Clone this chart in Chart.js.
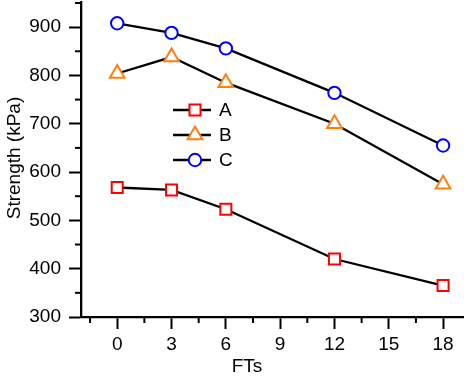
<!DOCTYPE html>
<html>
<head>
<meta charset="utf-8">
<script src="https://cdn.jsdelivr.net/npm/chart.js@4/dist/chart.umd.min.js"></script>
<style>
  html, body { margin: 0; padding: 0; background: #fff; }
  #wrap { width: 464px; height: 376px; position: relative; }
</style>
</head>
<body>
<div id="wrap"><canvas id="c" width="464" height="376"></canvas></div>
<script>
// Strength vs freeze-thaw cycles
var fts = [0, 3, 6, 12, 18];
var seriesA = [568, 563, 523, 420, 365];
var seriesB = [804, 838, 785, 700, 575];
var seriesC = [908, 888, 856, 764, 655];
var xTicks = [0, 3, 6, 9, 12, 15, 18];
var yTicks = [300, 400, 500, 600, 700, 800, 900];
var names = ['A', 'B', 'C'];

var FONT = '"Liberation Sans", Arial, sans-serif';
var styles = [
  { color: '#ff0000', pointStyle: 'rect', radius: 7.8 },
  { color: '#ff7f0e', pointStyle: 'triangle', radius: 8.5 },
  { color: '#0000ff', pointStyle: 'circle', radius: 6.2 }
];

function pts(vals) {
  return fts.map(function (x, i) { return { x: x, y: vals[i] }; });
}

var allSeries = [seriesA, seriesB, seriesC];
var datasets = allSeries.map(function (vals, i) {
  var s = styles[i];
  return {
    label: names[i],
    data: pts(vals),
    borderColor: '#000',
    borderWidth: 2.3,
    pointStyle: s.pointStyle,
    pointRadius: s.radius,
    pointBorderColor: s.color,
    pointBackgroundColor: '#fff',
    pointBorderWidth: 2,
    tension: 0,
    clip: false
  };
});

// minor ticks, axis titles and the in-plot legend
var extras = {
  id: 'extras',
  afterDraw: function (chart) {
    var ctx = chart.ctx;
    var xs = chart.scales.x, ys = chart.scales.y;
    var area = chart.chartArea;
    ctx.save();
    ctx.strokeStyle = '#000';
    ctx.lineWidth = 2;
    // minor x ticks
    for (var v = -1.5; v <= xs.max; v += 3) {
      var px = xs.getPixelForValue(v);
      ctx.beginPath(); ctx.moveTo(px, area.bottom); ctx.lineTo(px, area.bottom + 6); ctx.stroke();
    }
    // minor y ticks
    for (var w = 350; w <= ys.max; w += 100) {
      var py = ys.getPixelForValue(w);
      ctx.beginPath(); ctx.moveTo(area.left, py); ctx.lineTo(area.left - 6, py); ctx.stroke();
    }
    // axis titles
    ctx.fillStyle = '#000';
    ctx.font = '19px ' + FONT;
    ctx.textAlign = 'center';
    ctx.textBaseline = 'alphabetic';
    ctx.fillText('FTs', 247, 372);
    ctx.save();
    ctx.translate(20, 158);
    ctx.rotate(-Math.PI / 2);
    ctx.fillText('Strength (kPa)', 0, 0);
    ctx.restore();
    // legend
    var lx0 = 173, lx1 = 211, mx = 195, tx = 219;
    [110, 135, 160].forEach(function (ly, i) {
      var ds = chart.data.datasets[i];
      ctx.strokeStyle = '#000';
      ctx.lineWidth = 2.3;
      ctx.beginPath(); ctx.moveTo(lx0, ly); ctx.lineTo(lx1, ly); ctx.stroke();
      ctx.fillStyle = '#fff';
      ctx.strokeStyle = ds.pointBorderColor;
      ctx.lineWidth = ds.pointBorderWidth;
      Chart.helpers.drawPoint(ctx, { pointStyle: ds.pointStyle, radius: ds.pointRadius, rotation: 0, borderWidth: ds.pointBorderWidth }, mx, ly);
      ctx.fillStyle = '#000';
      ctx.textAlign = 'left';
      ctx.textBaseline = 'middle';
      ctx.fillText(ds.label, tx, ly + 1);
    });
    ctx.restore();
  }
};

new Chart(document.getElementById('c'), {
  type: 'line',
  data: { datasets: datasets },
  plugins: [extras],
  options: {
    responsive: false,
    animation: false,
    events: [],
    layout: { autoPadding: false, padding: { left: 0, right: 1, top: 2, bottom: 0 } },
    plugins: { legend: { display: false }, tooltip: { enabled: false } },
    scales: {
      x: {
        type: 'linear',
        min: -2,
        max: 19.1,
        afterBuildTicks: function (s) { s.ticks = xTicks.map(function (v) { return { value: v }; }); },
        afterFit: function (s) { s.height = 59; s.paddingLeft = 0; s.paddingRight = 0; },
        border: { display: true, color: '#000', width: 2.3 },
        grid: { drawOnChartArea: false, drawTicks: true, tickLength: 12, tickWidth: 2, tickColor: '#000' },
        ticks: { color: '#000', font: { family: FONT, size: 19 }, padding: 4, maxRotation: 0, autoSkip: false }
      },
      y: {
        type: 'linear',
        min: 300,
        max: 952,
        afterBuildTicks: function (s) { s.ticks = yTicks.map(function (v) { return { value: v }; }); },
        afterFit: function (s) { s.width = 81; s.paddingTop = 0; s.paddingBottom = 0; },
        border: { display: true, color: '#000', width: 2.3 },
        grid: { drawOnChartArea: false, drawTicks: true, tickLength: 12, tickWidth: 2, tickColor: '#000' },
        ticks: { color: '#000', font: { family: FONT, size: 19 }, padding: 8, autoSkip: false }
      }
    }
  }
});
</script>
</body>
</html>
